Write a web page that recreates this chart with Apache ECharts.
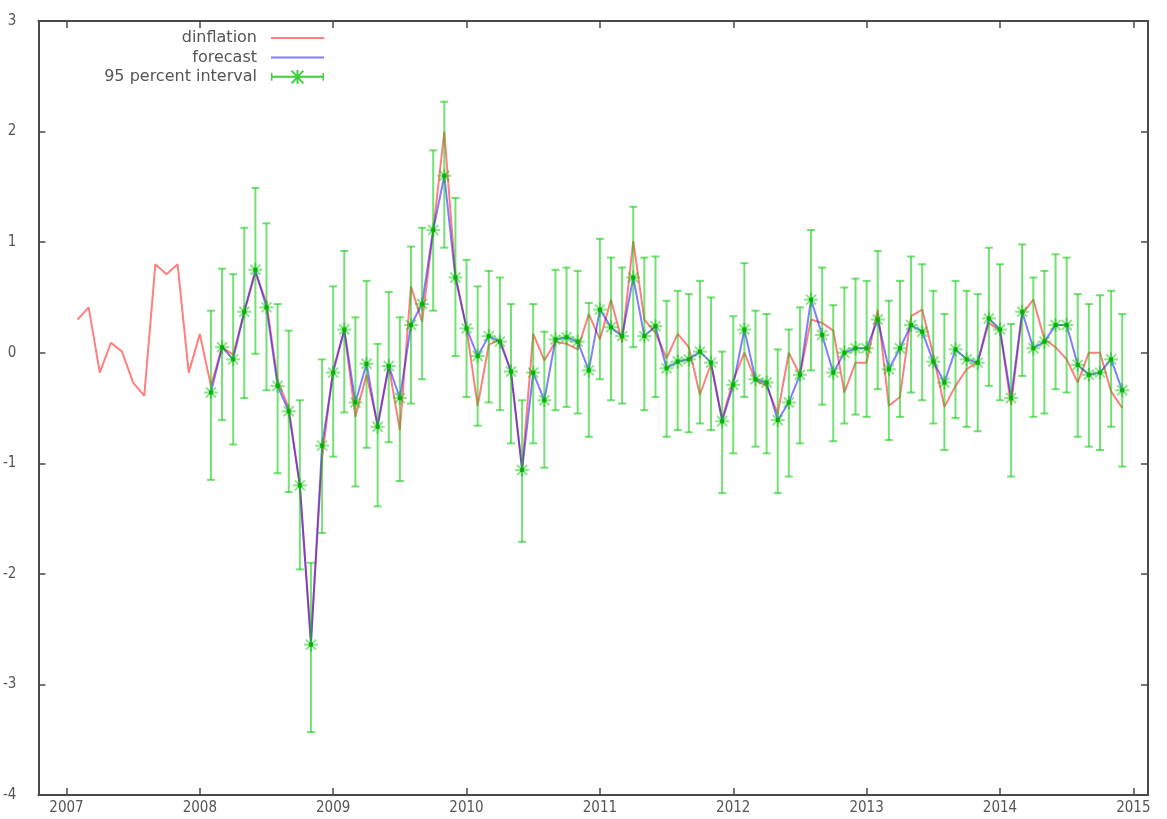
<!DOCTYPE html>
<html>
<head>
<meta charset="utf-8">
<title>dinflation forecast</title>
<script src="https://cdn.jsdelivr.net/npm/echarts@6/dist/echarts.min.js"></script>
<style>
  html, body { margin: 0; padding: 0; background: #ffffff; }
  #chart { width: 1167px; height: 819px; }
</style>
</head>
<body>
<div id="chart"></div>
<script>
// Monthly series, first observation February 2007
const startYear = 2007;
const startMonth = 2;
// The forecast begins one year later (February 2008)
const forecastOffset = 12;

// Observed change in inflation, Feb 2007 .. Dec 2014
const dinflation = [
  0.30, 0.41, -0.18, 0.09, 0.01, -0.27, -0.39, 0.80, 0.71, 0.80, -0.18,
  0.17, -0.30, 0.05, -0.02, 0.37, 0.72, 0.45, -0.25, -0.50, -1.20, -2.60, -0.95,
  -0.15, 0.20, -0.58, -0.20, -0.65, -0.12, -0.70, 0.60, 0.28, 1.10, 2.00, 0.70,
  0.22, -0.48, 0.07, 0.12, -0.17, -1.05, 0.17, -0.07, 0.10, 0.08, 0.03, 0.35,
  0.12, 0.48, 0.10, 1.01, 0.30, 0.18, -0.05, 0.17, 0.05, -0.38, -0.10, -0.60,
  -0.25, 0.00, -0.25, -0.30, -0.55, 0.00, -0.20, 0.30, 0.27, 0.20, -0.36, -0.09,
  -0.09, 0.39, -0.48, -0.40, 0.33, 0.39, -0.02, -0.49, -0.30, -0.15, -0.08, 0.27,
  0.20, -0.47, 0.35, 0.48, 0.12, 0.05, -0.06, -0.27, 0.00, 0.00, -0.35, -0.50
];

// One-step-ahead forecast, Feb 2008 .. Dec 2014
const forecast = [
  -0.36, 0.05, -0.06, 0.37, 0.75, 0.41, -0.30, -0.53, -1.20, -2.64, -0.84,
  -0.18, 0.21, -0.45, -0.10, -0.67, -0.12, -0.41, 0.25, 0.44, 1.11, 1.60, 0.68,
  0.22, -0.03, 0.15, 0.10, -0.17, -1.06, -0.18, -0.43, 0.12, 0.14, 0.10, -0.16,
  0.39, 0.23, 0.15, 0.68, 0.15, 0.24, -0.14, -0.08, -0.06, 0.01, -0.09, -0.62,
  -0.29, 0.21, -0.24, -0.27, -0.61, -0.45, -0.20, 0.48, 0.16, -0.18, 0.00, 0.04,
  0.04, 0.30, -0.15, 0.04, 0.25, 0.19, -0.08, -0.27, 0.03, -0.06, -0.09, 0.31,
  0.21, -0.41, 0.37, 0.04, 0.10, 0.25, 0.25, -0.11, -0.20, -0.18, -0.06, -0.34
];

// 95 percent interval bounds for the forecast
const upper = [
  0.38, 0.76, 0.71, 1.13, 1.49, 1.17, 0.44, 0.20, -0.43, -1.90, -0.06,
  0.60, 0.92, 0.32, 0.65, 0.08, 0.55, 0.32, 0.96, 1.13, 1.83, 2.27, 1.40,
  0.84, 0.60, 0.74, 0.68, 0.44, -0.43, 0.44, 0.19, 0.75, 0.77, 0.74, 0.45,
  1.03, 0.86, 0.77, 1.32, 0.86, 0.87, 0.47, 0.56, 0.53, 0.65, 0.50, 0.01,
  0.33, 0.81, 0.38, 0.35, 0.03, 0.21, 0.41, 1.11, 0.77, 0.43, 0.59, 0.67,
  0.65, 0.92, 0.47, 0.65, 0.87, 0.80, 0.56, 0.35, 0.65, 0.56, 0.53, 0.95,
  0.80, 0.26, 0.98, 0.68, 0.74, 0.89, 0.86, 0.53, 0.44, 0.52, 0.56, 0.35
];
const lower = [
  -1.15, -0.61, -0.83, -0.41, -0.01, -0.34, -1.09, -1.26, -1.96, -3.43, -1.63,
  -0.94, -0.54, -1.21, -0.86, -1.39, -0.81, -1.16, -0.46, -0.24, 0.38, 0.95, -0.03,
  -0.40, -0.66, -0.45, -0.52, -0.82, -1.71, -0.82, -1.04, -0.52, -0.49, -0.55, -0.76,
  -0.24, -0.43, -0.46, 0.05, -0.52, -0.40, -0.76, -0.70, -0.72, -0.64, -0.70, -1.27,
  -0.91, -0.40, -0.85, -0.91, -1.27, -1.12, -0.82, -0.16, -0.47, -0.80, -0.64, -0.56,
  -0.58, -0.33, -0.79, -0.58, -0.36, -0.43, -0.64, -0.88, -0.59, -0.67, -0.71, -0.30,
  -0.43, -1.12, -0.21, -0.58, -0.55, -0.33, -0.36, -0.76, -0.85, -0.88, -0.67, -1.03
];

// Axis ticks
const yearTicks = [2007, 2008, 2009, 2010, 2011, 2012, 2013, 2014, 2015];
const xMin = 2006.79, xMax = 2015.11;
const yMin = -4, yMax = 3, yStep = 1;

// Fractional year of the i-th month in the series
function monthTime(i) {
  return startYear + (startMonth - 1 + i) / 12;
}

const actualData = dinflation.map((v, i) => [monthTime(i), v]);
const forecastData = forecast.map((v, i) => [monthTime(i + forecastOffset), v]);
const intervalData = forecast.map((v, i) => [monthTime(i + forecastOffset), v, lower[i], upper[i]]);

const frameColor = '#4a4a4a';
const labelColor = '#555555';
const labelFont = "'DejaVu Sans Condensed', 'DejaVu Sans', sans-serif";

function xAxisDef(position, showLabels) {
  return {
    type: 'value', position: position, min: xMin, max: xMax,
    axisLine: { show: true, onZero: false, lineStyle: { color: frameColor, width: 2 } },
    axisTick: { show: true, inside: true, length: 7, customValues: yearTicks,
                lineStyle: { color: frameColor, width: 1.5 } },
    axisLabel: { show: showLabels, customValues: yearTicks, margin: 6,
                 color: labelColor, fontSize: 15, fontFamily: labelFont,
                 formatter: v => String(v) },
    splitLine: { show: false }
  };
}
function yAxisDef(position, showLabels) {
  return {
    type: 'value', position: position, min: yMin, max: yMax, interval: yStep,
    axisLine: { show: true, onZero: false, lineStyle: { color: frameColor, width: 2 } },
    axisTick: { show: true, inside: true, length: 7, lineStyle: { color: frameColor, width: 1.5 } },
    axisLabel: { show: showLabels, margin: 22, color: labelColor, fontSize: 15,
                 fontFamily: labelFont },
    splitLine: { show: false }
  };
}

// Error bar with end caps and an asterisk marker at the forecast
function renderInterval(params, api) {
  const t = api.value(0);
  const c = api.coord([t, api.value(1)]);
  const lo = api.coord([t, api.value(2)]);
  const hi = api.coord([t, api.value(3)]);
  const x = c[0], y = c[1];
  const cap = 4, arm = 7, diag = 5;
  const bar = { stroke: 'rgba(0,200,0,0.55)', lineWidth: 2, fill: null };
  const star = { stroke: 'rgba(0,195,0,0.45)', lineWidth: 2, fill: null };
  return {
    type: 'group',
    children: [
      { type: 'line', shape: { x1: x, y1: hi[1], x2: x, y2: lo[1] }, style: bar },
      { type: 'line', shape: { x1: x - cap, y1: hi[1], x2: x + cap, y2: hi[1] }, style: bar },
      { type: 'line', shape: { x1: x - cap, y1: lo[1], x2: x + cap, y2: lo[1] }, style: bar },
      { type: 'line', shape: { x1: x - arm, y1: y, x2: x + arm, y2: y }, style: star },
      { type: 'line', shape: { x1: x, y1: y - arm, x2: x, y2: y + arm }, style: star },
      { type: 'line', shape: { x1: x - diag, y1: y - diag, x2: x + diag, y2: y + diag }, style: star },
      { type: 'line', shape: { x1: x - diag, y1: y + diag, x2: x + diag, y2: y - diag }, style: star },
      { type: 'rect', shape: { x: x - 2, y: y - 2, width: 4, height: 4 }, style: { fill: '#00b400' } }
    ]
  };
}

const intervalIcon = 'path://M0,7h54v2H0z M0,4h1.5v8H0z M52.5,4H54v8h-1.5z M26,1h2v14h-2z ' +
  'M20.3,2.4l1.4-1.4l12,13l-1.4,1.4z M32.3,1l1.4,1.4l-12,13l-1.4-1.4z';

const chart = echarts.init(document.getElementById('chart'), null, { renderer: 'canvas' });
chart.setOption({
  animation: false,
  backgroundColor: '#ffffff',
  grid: { left: 38, right: 19, top: 21, bottom: 24, containLabel: false },
  xAxis: [xAxisDef('bottom', true), xAxisDef('top', false)],
  yAxis: [yAxisDef('left', true), yAxisDef('right', false)],
  legend: {
    orient: 'vertical',
    align: 'right',
    right: 842,
    top: 30,
    padding: 0,
    itemWidth: 53,
    itemHeight: 16,
    itemGap: 3.5,
    selectedMode: false,
    textStyle: { color: labelColor, fontSize: 16, fontFamily: "'DejaVu Sans', sans-serif",
                 padding: [0, 9, 5, 0] },
    data: [
      { name: 'dinflation', itemStyle: { opacity: 0 } },
      { name: 'forecast', itemStyle: { opacity: 0 } },
      { name: '95 percent interval', icon: intervalIcon, itemStyle: { color: '#3ccf3c' } }
    ]
  },
  series: [
    {
      name: 'dinflation', type: 'line', data: actualData,
      symbol: 'none', showSymbol: false,
      itemStyle: { color: '#ff0000' },
      lineStyle: { color: '#ff0000', width: 2, opacity: 0.5 },
      z: 2
    },
    {
      name: 'forecast', type: 'line', data: forecastData,
      symbol: 'none', showSymbol: false,
      itemStyle: { color: '#0000ff' },
      lineStyle: { color: '#0000ff', width: 2, opacity: 0.5 },
      z: 3
    },
    {
      name: '95 percent interval', type: 'custom', data: intervalData,
      encode: { x: 0, y: [1, 2, 3] },
      itemStyle: { color: '#3ccf3c' },
      renderItem: renderInterval,
      z: 4
    }
  ]
});
</script>
</body>
</html>
